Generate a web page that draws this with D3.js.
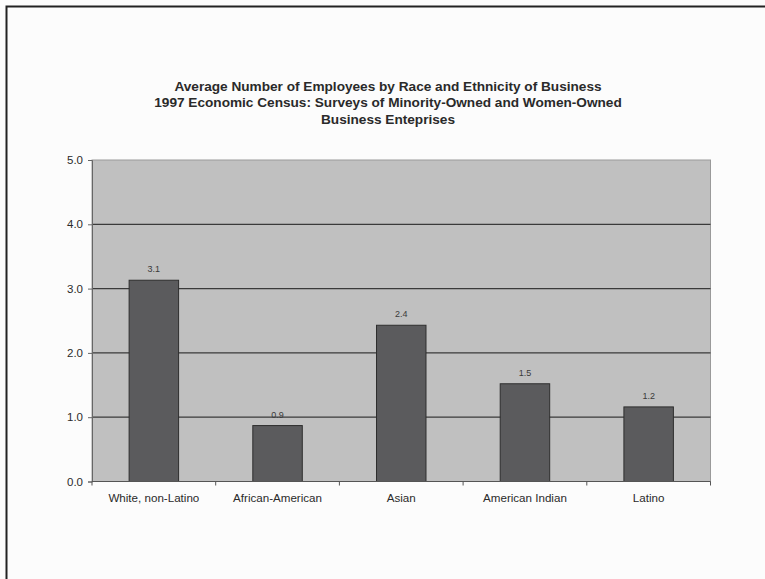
<!DOCTYPE html>
<html>
<head>
<meta charset="utf-8">
<script src="https://cdn.jsdelivr.net/npm/d3@7"></script>
<style>
  html, body { margin: 0; padding: 0; background: #fcfcfc; }
  svg { display: block; }
</style>
</head>
<body>
<script>
// Average employees per firm, 1997 Economic Census
const categories = ["White, non-Latino", "African-American", "Asian", "American Indian", "Latino"];
const employees = [3.13, 0.87, 2.43, 1.52, 1.16];
const yTicks = [0, 1, 2, 3, 4, 5];
const titleLines = [
  "Average Number of Employees by Race and Ethnicity of Business",
  "1997 Economic Census: Surveys of Minority-Owned and Women-Owned",
  "Business Enteprises"
];

const W = 765, H = 579;
const plot = { left: 92, top: 160, right: 710.5, bottom: 481.5 };
const fontFamily = "Arial, 'Liberation Sans', sans-serif";

const svg = d3.select("body").append("svg")
  .attr("width", W).attr("height", H)
  .style("font-family", fontFamily);

svg.append("rect").attr("width", W).attr("height", H).attr("fill", "#fcfcfc");

// Frame around the chart area (top and left edges visible)
svg.append("path")
  .attr("d", `M6.5,${H} V6.5 H${W}`)
  .attr("fill", "none").attr("stroke", "#222").attr("stroke-width", 2);

// Title, slightly widened
svg.append("g").attr("transform", "translate(388,0) scale(1.1,1)")
  .selectAll("text").data(titleLines).join("text")
  .attr("x", 0).attr("y", (d, i) => 91 + i * 16.5)
  .attr("text-anchor", "middle")
  .attr("font-size", "12.4px").attr("font-weight", "bold").attr("fill", "#2a2a2a")
  .text(d => d);

const x = d3.scaleBand().domain(categories).range([plot.left, plot.right])
  .paddingInner(0.6).paddingOuter(0.3);
const xBand = d3.scaleBand().domain(categories).range([plot.left, plot.right]);
const y = d3.scaleLinear().domain([0, 5]).range([plot.bottom, plot.top]);

// Plot background
svg.append("rect")
  .attr("x", plot.left).attr("y", plot.top)
  .attr("width", plot.right - plot.left).attr("height", plot.bottom - plot.top)
  .attr("fill", "#c0c0c0").attr("stroke", "#9a9a9a").attr("stroke-width", 1);

// Gridlines
svg.append("g").selectAll("line").data(yTicks.filter(d => d > 0 && d < 5)).join("line")
  .attr("x1", plot.left).attr("x2", plot.right)
  .attr("y1", d => y(d)).attr("y2", d => y(d))
  .attr("stroke", "#3a3a3a").attr("stroke-width", 1.2);

// Bars
svg.append("g").selectAll("rect").data(categories).join("rect")
  .attr("x", d => x(d)).attr("width", x.bandwidth())
  .attr("y", (d, i) => y(employees[i]))
  .attr("height", (d, i) => y(0) - y(employees[i]))
  .attr("fill", "#5b5b5d").attr("stroke", "#2e2e2e").attr("stroke-width", 1);

// Data labels
const fmt = d3.format(".1f");
svg.append("g").selectAll("text").data(categories).join("text")
  .attr("x", d => x(d) + x.bandwidth() / 2)
  .attr("y", (d, i) => y(employees[i]) - 8)
  .attr("text-anchor", "middle").attr("font-size", "9px").attr("fill", "#3a3a3a")
  .text((d, i) => fmt(employees[i]));

// Y axis
const yAxis = svg.append("g").attr("transform", `translate(${plot.left},0)`)
  .call(d3.axisLeft(y).tickValues(yTicks).tickFormat(d3.format(".1f")).tickSize(4).tickPadding(5));
yAxis.select(".domain").attr("stroke", "#666");
yAxis.selectAll(".tick line").attr("stroke", "#666");
yAxis.selectAll("text").attr("font-size", "11.5px").attr("fill", "#2a2a2a")
  .attr("font-family", fontFamily);

// X axis with ticks at category boundaries
const xAxisG = svg.append("g").attr("transform", `translate(0,${plot.bottom})`);
xAxisG.append("line").attr("x1", plot.left).attr("x2", plot.right)
  .attr("stroke", "#555").attr("stroke-width", 1.2);
const boundaries = categories.map(c => xBand(c)).concat([plot.right]);
xAxisG.selectAll("line.tk").data(boundaries).join("line").attr("class", "tk")
  .attr("x1", d => d).attr("x2", d => d).attr("y1", 0).attr("y2", 4)
  .attr("stroke", "#555");
xAxisG.selectAll("text").data(categories).join("text")
  .attr("x", d => xBand(d) + xBand.bandwidth() / 2).attr("y", 20)
  .attr("text-anchor", "middle").attr("font-size", "11.6px").attr("fill", "#2a2a2a")
  .text(d => d);
</script>
</body>
</html>
